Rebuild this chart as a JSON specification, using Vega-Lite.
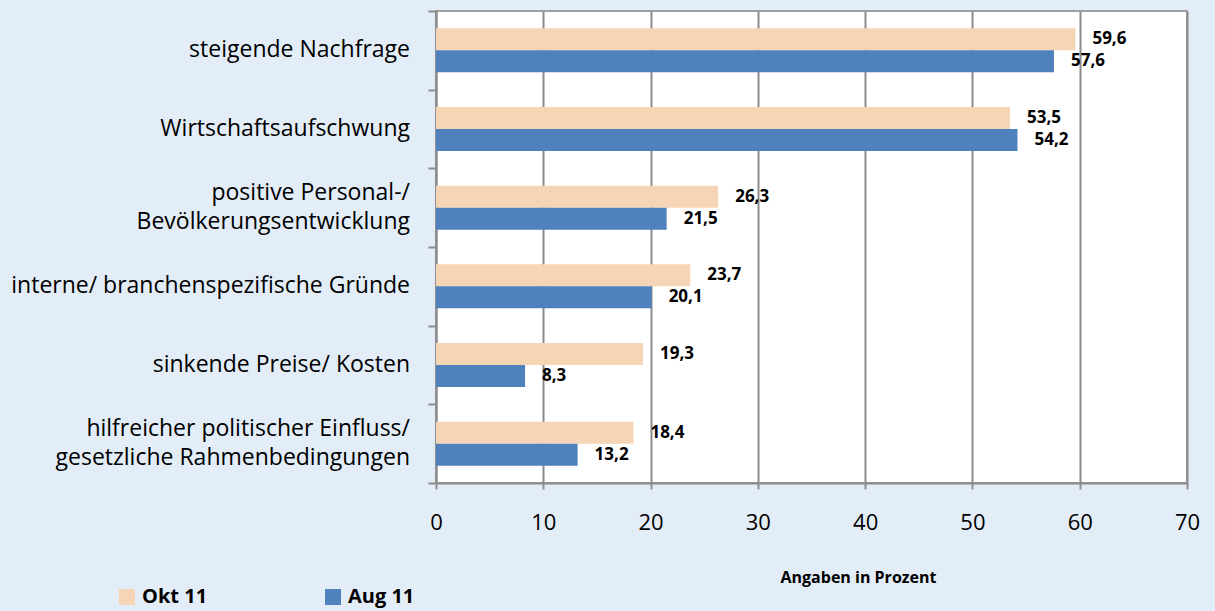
{
  "$schema": "https://vega.github.io/schema/vega-lite/v6.json",
  "autosize": "none",
  "width": 751,
  "height": 472,
  "padding": {"left": 436, "top": 11, "right": 28, "bottom": 128},
  "background": "#e3edf7",
  "config": {
    "view": {"stroke": "#a0a0a0", "strokeWidth": 2, "fill": "white"},
    "font": "Open Sans",
    "locale": {"number": {"decimal": ",", "thousands": ".", "grouping": [3], "currency": ["", " €"]}}
  },
  "data": {
    "values": [
      {"cat": "steigende Nachfrage", "series": "Okt 11", "value": 59.6},
      {"cat": "steigende Nachfrage", "series": "Aug 11", "value": 57.6},
      {"cat": "Wirtschaftsaufschwung", "series": "Okt 11", "value": 53.5},
      {"cat": "Wirtschaftsaufschwung", "series": "Aug 11", "value": 54.2},
      {"cat": "positive Personal-/|Bevölkerungsentwicklung", "series": "Okt 11", "value": 26.3},
      {"cat": "positive Personal-/|Bevölkerungsentwicklung", "series": "Aug 11", "value": 21.5},
      {"cat": "interne/ branchenspezifische Gründe", "series": "Okt 11", "value": 23.7},
      {"cat": "interne/ branchenspezifische Gründe", "series": "Aug 11", "value": 20.1},
      {"cat": "sinkende Preise/ Kosten", "series": "Okt 11", "value": 19.3},
      {"cat": "sinkende Preise/ Kosten", "series": "Aug 11", "value": 8.3},
      {"cat": "hilfreicher politischer Einfluss/|gesetzliche Rahmenbedingungen", "series": "Okt 11", "value": 18.4},
      {"cat": "hilfreicher politischer Einfluss/|gesetzliche Rahmenbedingungen", "series": "Aug 11", "value": 13.2}
    ]
  },
  "encoding": {
    "y": {
      "field": "cat", "type": "nominal", "sort": null,
      "scale": {"paddingInner": 0, "paddingOuter": 0},
      "axis": {
        "title": null,
        "tickBand": "extent",
        "labels": false,
        "tickSize": 8,
        "tickColor": "#8c8c8c",
        "tickWidth": 2,
        "domainColor": "#8c8c8c",
        "domainWidth": 2,
        "grid": false
      }
    },
    "x": {
      "field": "value", "type": "quantitative",
      "scale": {"domain": [0, 70], "nice": false},
      "axis": {
        "values": [0, 10, 20, 30, 40, 50, 60, 70],
        "title": "Angaben in Prozent",
        "titleFontSize": 16,
        "titleFontWeight": "bold",
        "titleColor": "#000000",
        "titleX": 422,
        "titleY": 94,
        "titleBaseline": "middle",
        "titleAnchor": null,
        "labelFontSize": 22,
        "labelColor": "#000000",
        "labelPadding": 23,
        "labelFlush": false,
        "tickSize": 6,
        "tickColor": "#8c8c8c",
        "tickWidth": 2,
        "domainColor": "#8c8c8c",
        "domainWidth": 2,
        "grid": true,
        "gridColor": "#8c8c8c",
        "gridWidth": 2
      }
    }
  },
  "layer": [
    {
      "mark": {"type": "bar"},
      "encoding": {
        "yOffset": {
          "field": "series", "type": "nominal", "sort": ["Okt 11", "Aug 11"],
          "scale": {"paddingInner": 0, "paddingOuter": 0.788}
        },
        "color": {
          "field": "series", "type": "nominal",
          "scale": {"domain": ["Okt 11", "Aug 11"], "range": ["#f6d5b6", "#4f81bd"]},
          "legend": {
            "title": null,
            "orient": "none",
            "legendX": -319,
            "legendY": 576,
            "direction": "horizontal",
            "symbolType": "square",
            "symbolSize": 256,
            "symbolStrokeWidth": 0,
            "labelFontSize": 20,
            "labelFontWeight": "bold",
            "labelColor": "#000000",
            "labelOffset": 5,
            "columnPadding": 115,
            "padding": 0
          }
        }
      }
    },
    {
      "mark": {"type": "text", "align": "left", "baseline": "middle", "dx": 17, "fontSize": 17, "fontWeight": "bold", "color": "#000000"},
      "encoding": {
        "yOffset": {"field": "series", "type": "nominal", "sort": ["Okt 11", "Aug 11"]},
        "text": {"field": "value", "type": "quantitative", "format": ".1f"}
      }
    },
    {
      "transform": [{"filter": "datum.series === 'Okt 11' && indexof(datum.cat, '|') < 0"}],
      "mark": {"type": "text", "align": "right", "baseline": "middle", "dx": -26, "fontSize": 23, "color": "#000000"},
      "encoding": {
        "x": {"datum": 0},
        "text": {"field": "cat", "type": "nominal"}
      }
    },
    {
      "transform": [{"filter": "datum.series === 'Okt 11' && indexof(datum.cat, '|') >= 0"}],
      "mark": {"type": "text", "align": "right", "baseline": "line-bottom", "lineBreak": "|", "lineHeight": 29, "dx": -26, "fontSize": 23, "color": "#000000"},
      "encoding": {
        "x": {"datum": 0},
        "text": {"field": "cat", "type": "nominal"}
      }
    }
  ]
}
